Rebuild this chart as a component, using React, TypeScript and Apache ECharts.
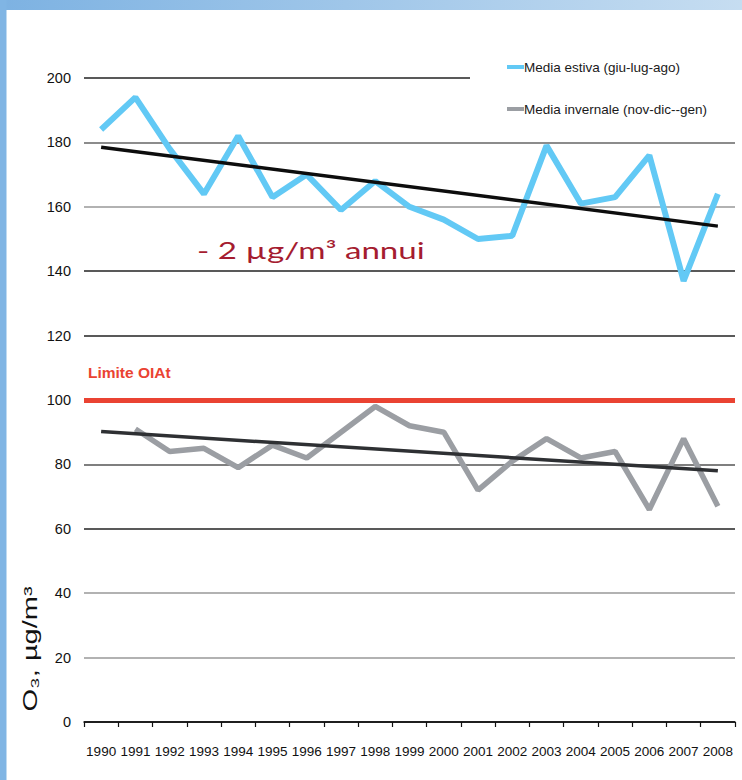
import React, { useEffect, useRef } from "react";
import * as echarts from "echarts";

const years = ["1990","1991","1992","1993","1994","1995","1996","1997","1998","1999","2000","2001","2002","2003","2004","2005","2006","2007","2008"];
const summer = [184,194,178,164,182,163,170,159,168,160,156,150,151,179,161,163,176,137,164];
const winter = [null,91,84,85,79,86,82,90,98,92,90,72,81,88,82,84,66,88,67];
const summerTrend = [178.5, 154];
const winterTrend = [90.2, 78];
const limitValue = 100;
const yMin = 0;
const yMax = 200;
const yInterval = 20;

const SANS = "'Liberation Sans', Arial, sans-serif";

function trend(ends: number[]) {
  return years.map((_, i) => (i === 0 ? ends[0] : i === years.length - 1 ? ends[1] : null));
}

export default function App() {
  const ref = useRef<HTMLDivElement>(null);
  useEffect(() => {
    if (!ref.current) return;
    const chart = echarts.init(ref.current, undefined, { renderer: "svg" });
    chart.setOption({
      animation: false,
      backgroundColor: "#ffffff",
      grid: { left: 84, right: 7, top: 78, bottom: 58 },
      legend: {
        orient: "vertical",
        left: 470,
        top: 50,
        padding: [10, 55, 10, 37],
        backgroundColor: "#ffffff",
        itemGap: 28,
        itemWidth: 17,
        itemHeight: 4,
        icon: "rect",
        data: ["Media estiva (giu-lug-ago)", "Media invernale (nov-dic--gen)"],
        textStyle: { fontFamily: SANS, fontSize: 13.5, color: "#1a1a1a", padding: [0, 0, 0, -5] },
      },
      xAxis: {
        type: "category",
        data: years,
        boundaryGap: true,
        axisLine: { lineStyle: { color: "#111", width: 1.5 } },
        axisTick: { show: true, length: 5, lineStyle: { color: "#111", width: 1.2 } },
        axisLabel: { fontFamily: SANS, fontSize: 13.5, color: "#111", margin: 22, interval: 0 },
        splitLine: { show: false },
      },
      yAxis: {
        type: "value",
        min: yMin,
        max: yMax,
        interval: yInterval,
        axisLine: { show: false },
        axisTick: { show: false },
        axisLabel: { fontFamily: SANS, fontSize: 14.5, color: "#111", margin: 13 },
        splitLine: {
          show: true,
          lineStyle: {
            width: 1.6,
            color: ["#111", "#999", "#999", "#222", "#555", "#555", "#222", "#222", "#999", "#666", "#222"],
          },
        },
      },
      series: [
        {
          name: "Media estiva (giu-lug-ago)",
          type: "line",
          data: summer,
          symbol: "none",
          color: "#62c9f5",
          lineStyle: { color: "#62c9f5", width: 6 },
          z: 3,
          markLine: {
            silent: true,
            symbol: "none",
            z: 5,
            data: [{ yAxis: limitValue }],
            lineStyle: { color: "#ea4332", width: 5, type: "solid" },
            label: {
              show: true,
              position: "insideStartTop",
              formatter: "Limite OIAt",
              color: "#ea4332",
              fontFamily: SANS,
              fontWeight: "bold",
              fontSize: 15.5,
              distance: [4, 20],
            },
          },
        },
        {
          name: "trend estiva",
          type: "line",
          data: trend(summerTrend),
          connectNulls: true,
          symbol: "none",
          lineStyle: { color: "#0d0d0d", width: 3.5 },
          z: 4,
        },
        {
          name: "Media invernale (nov-dic--gen)",
          type: "line",
          data: winter,
          symbol: "none",
          color: "#9b9ea3",
          lineStyle: { color: "#9b9ea3", width: 5.5 },
          z: 3,
        },
        {
          name: "trend invernale",
          type: "line",
          data: trend(winterTrend),
          connectNulls: true,
          symbol: "none",
          lineStyle: { color: "#2e3033", width: 3.5 },
          z: 4,
        },
      ],
      graphic: [
        {
          type: "rect",
          shape: { x: 0, y: 0, width: 742, height: 10 },
          style: {
            fill: new echarts.graphic.LinearGradient(0, 0, 1, 0, [
              { offset: 0, color: "#7db2e2" },
              { offset: 1, color: "#c6ddf1" },
            ]),
          },
          z: 10,
        },
        {
          type: "rect",
          shape: { x: 0, y: 0, width: 6.5, height: 780 },
          style: { fill: "#80b5e4" },
          z: 10,
        },
        {
          type: "text",
          x: 30,
          y: 649,
          rotation: Math.PI / 2,
          scaleX: 1.45,
          style: {
            text: "O\u2083, \u00b5g/m\u00b3",
            fontFamily: SANS,
            fontSize: 20,
            fill: "#111",
            align: "center",
            verticalAlign: "middle",
          },
          z: 10,
        },
        {
          type: "text",
          x: 197,
          y: 249,
          scaleX: 1.38,
          style: {
            text: "- 2 \u00b5g/m\u00b3 annui",
            fontFamily: "Lato, 'Open Sans', sans-serif",
            fontSize: 24,
            fill: "#a51c30",
            align: "left",
            verticalAlign: "middle",
          },
          z: 10,
        },
      ],
    });
    return () => chart.dispose();
  }, []);
  return <div ref={ref} style={{ position: "absolute", left: 0, top: 0, width: 742, height: 780 }} />;
}
